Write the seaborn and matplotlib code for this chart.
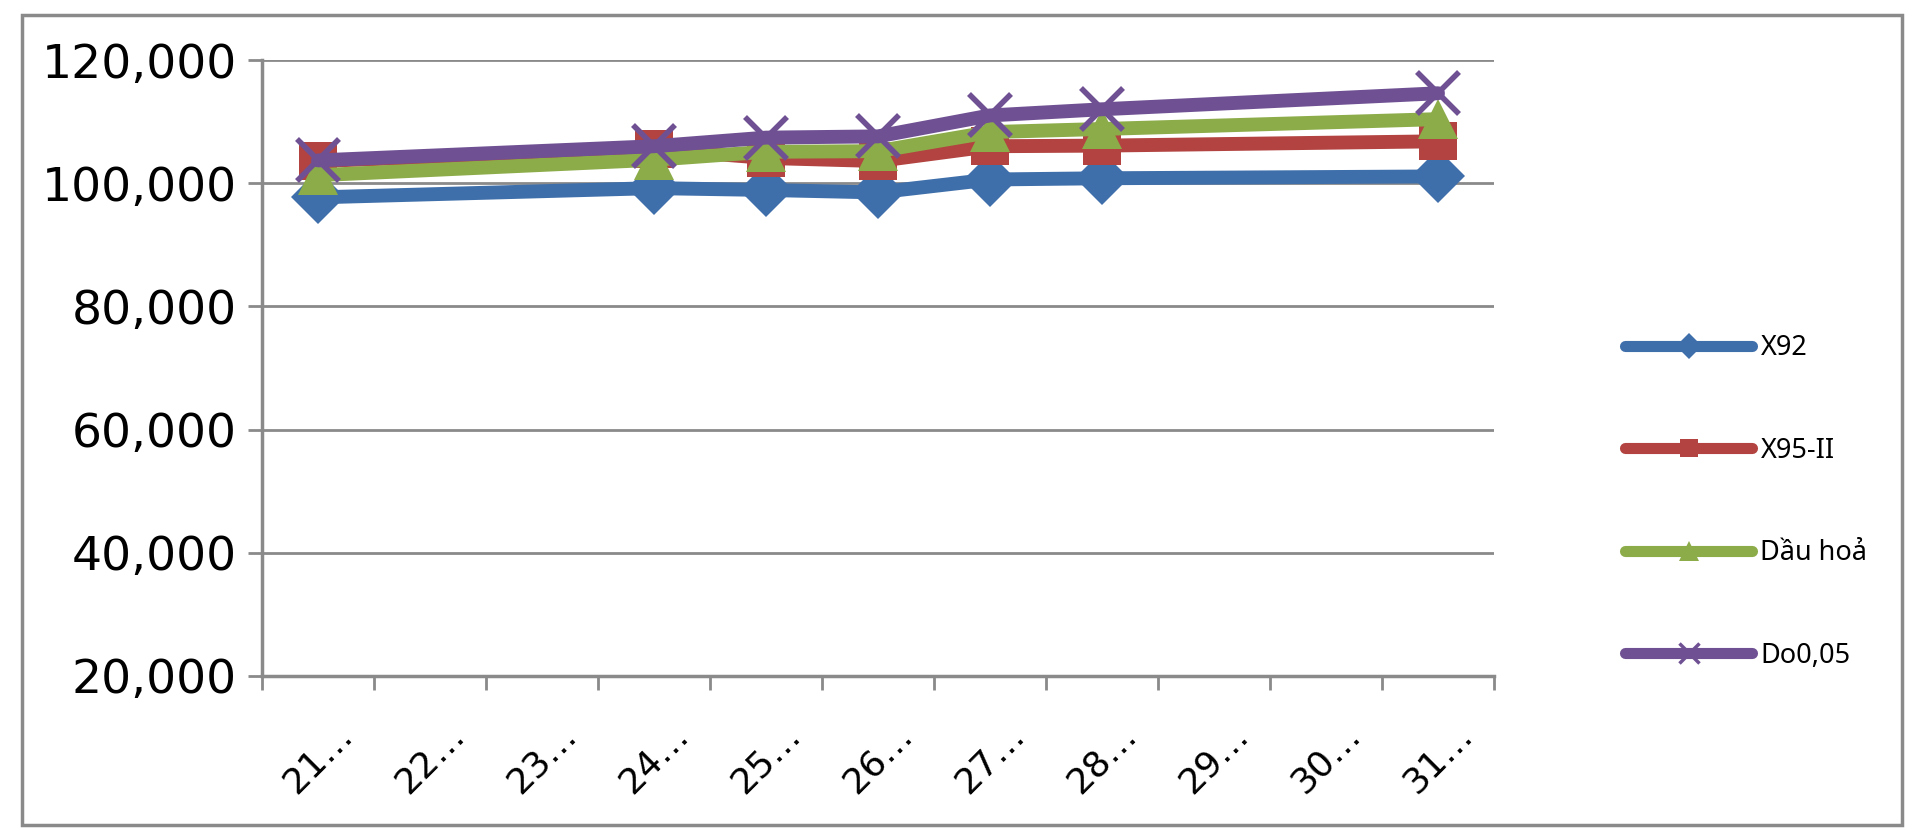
import numpy as np
import pandas as pd
import matplotlib
matplotlib.use("Agg")
import matplotlib.pyplot as plt
from matplotlib.lines import Line2D
from matplotlib.patches import Rectangle
from matplotlib.ticker import FuncFormatter, FixedLocator
import seaborn as sns

# ---- data ----
categories = ["21…", "22…", "23…", "24…", "25…", "26…", "27…", "28…", "29…", "30…", "31…"]
x92 =      [97700, None, None, 99200, 98900, 98500, 100600, 100800, None, None, 101100]
x95 =      [103600, None, None, 105500, 104100, 103600, 106000, 106100, None, None, 106800]
dau_hoa =  [101300, None, None, 103800, 105100, 105200, 108300, 108800, None, None, 110400]
do005 =    [103700, None, None, 106000, 107400, 107600, 111000, 112000, None, None, 114600]
series_names = ["X92", "X95-II", "Dầu hoả", "Do0,05"]
y_ticks = [20000, 40000, 60000, 80000, 100000, 120000]

sns.set_theme(style="white")
plt.rcParams['font.family'] = ['DejaVu Sans']

colors = ["#3F6FAA", "#B24340", "#8CAC49", "#6F5193"]
markers = ["D", "s", "^", "x"]
msizes = [27, 27, 29, 30]

df = pd.DataFrame({"idx": np.arange(len(categories)),
                   series_names[0]: x92, series_names[1]: x95,
                   series_names[2]: dau_hoa, series_names[3]: do005})
long = df.melt(id_vars="idx", var_name="series", value_name="price").dropna()
long["price"] = long["price"].astype(float)

fig = plt.figure(figsize=(19.2, 8.4), dpi=100)
ax = fig.add_axes([262/1920, 1-676/840, (1494-262)/1920, (676-60)/840])

for name, c, m, ms in zip(series_names, colors, markers, msizes):
    sub = long[long["series"] == name]
    kw = dict(marker=m, markersize=ms, markeredgecolor=c, markerfacecolor=c)
    if m == "x":
        kw["markeredgewidth"] = 4
    else:
        kw["markeredgewidth"] = 0
    sns.lineplot(data=sub, x="idx", y="price", color=c, linewidth=10,
                 ax=ax, legend=False, solid_capstyle="round", **kw)

gray = "#8a8a8a"
ax.set_ylim(20000, 120000)
ax.set_xlim(-0.5, len(categories) - 0.5)
ax.set_yticks(y_ticks)
ax.yaxis.set_major_formatter(FuncFormatter(lambda v, p: f"{int(v):,}"))
ax.grid(axis="y", color=gray, linewidth=2)
ax.grid(axis="x", visible=False)
ax.set_axisbelow(True)

ax.xaxis.set_major_locator(FixedLocator(np.arange(-0.5, len(categories), 1.0)))
ax.xaxis.set_minor_locator(FixedLocator(np.arange(len(categories))))
ax.set_xticklabels([], minor=False)
ax.set_xticks(np.arange(len(categories)), labels=categories, minor=True)
ax.tick_params(axis="x", which="major", length=10, width=2, color=gray, direction="out", bottom=True)
ax.tick_params(axis="x", which="minor", length=0, pad=30, labelsize=26, labelcolor="black")
for lab in ax.get_xticklabels(minor=True):
    lab.set_rotation(45)
    lab.set_ha("center")
    lab.set_va("top")
ax.tick_params(axis="y", length=10, width=2, color=gray, direction="out", left=True,
               labelsize=34, pad=8, labelcolor="black")

for s in ["top", "right"]:
    ax.spines[s].set_visible(False)
for s in ["left", "bottom"]:
    ax.spines[s].set_color(gray)
    ax.spines[s].set_linewidth(2.5)
ax.set_xlabel("")
ax.set_ylabel("")

handles = []
for name, c, m, ms in zip(series_names, colors, markers, msizes):
    kw = dict(marker=m, markersize=ms * 0.5, markerfacecolor=c, markeredgecolor=c,
              markeredgewidth=(2.5 if m == "x" else 0))
    handles.append(Line2D([0], [0], color=c, linewidth=8, solid_capstyle="round", **kw))
leg = fig.legend(handles, series_names, loc="center left", bbox_to_anchor=(1625/1920, 1-502/840),
                 frameon=False, borderpad=0, borderaxespad=0, handlelength=4.7, handletextpad=0.3,
                 labelspacing=2.75, prop={"family": ["Noto Sans", "DejaVu Sans"], "size": 19.5})
for t in leg.get_texts():
    t.set_color("black")

fig.patches.append(Rectangle((22/1920, 1-825/840), (1902-22)/1920, (825-15)/840,
                             transform=fig.transFigure, fill=False, edgecolor=gray, linewidth=2.5))

fig.savefig("out.png", dpi=100, facecolor="white")
